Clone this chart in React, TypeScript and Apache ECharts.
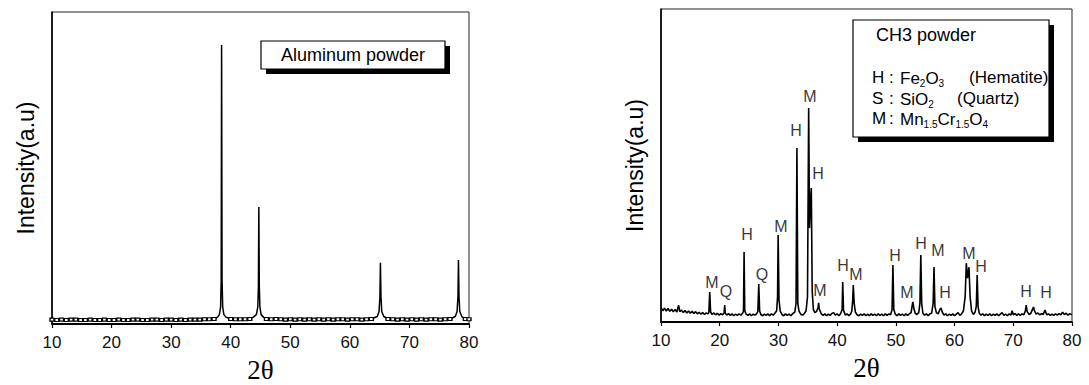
import React, { useEffect, useRef } from "react";
import * as echarts from "echarts";

const xTickValues = [10, 20, 30, 40, 50, 60, 70, 80];

// Aluminum powder pattern: [2θ, intensity]
const aluminumData: [number, number][] = [
  [10, 1.4], [10.8, 1.3], [11.6, 1.4], [12.4, 1.3], [13.2, 1.4], [14, 1.4], [14.8, 1.3], [15.6, 1.3],
  [16.4, 1.4], [17.2, 1.3], [18, 1.3], [18.8, 1.4], [19.6, 1.3], [20.4, 1.3], [21.2, 1.4], [22, 1.3],
  [22.8, 1.3], [23.6, 1.4], [24.4, 1.4], [25.2, 1.3], [26, 1.3], [26.8, 1.4], [27.6, 1.4], [28.4, 1.3],
  [29.2, 1.4], [30, 1.4], [30.8, 1.3], [31.6, 1.4], [32.4, 1.3], [33.2, 1.4], [34, 1.4], [34.8, 1.4],
  [35.6, 1.5], [36.4, 1.5], [37.2, 1.6],
  [37.8, 2.2], [38.1, 3.0], [38.3, 5.5], [38.4, 14], [38.47, 89.4], [38.55, 14], [38.65, 5.5], [38.85, 3.0], [39.2, 2.2],
  [40, 1.6], [40.8, 1.5], [41.6, 1.5], [42.4, 1.5], [43.2, 1.6],
  [43.8, 2.2], [44.3, 3.0], [44.55, 5.5], [44.65, 12], [44.72, 37.5], [44.8, 12], [44.9, 5.5], [45.1, 3.0], [45.5, 2.2],
  [46, 1.6], [46.8, 1.5], [47.6, 1.6], [48.4, 1.5], [49.2, 1.4], [50, 1.5], [50.8, 1.4], [51.6, 1.5],
  [52.4, 1.4], [53.2, 1.5], [54, 1.4], [54.8, 1.5], [55.6, 1.4], [56.4, 1.5], [57.2, 1.4], [58, 1.5],
  [58.8, 1.5], [59.6, 1.4], [60.4, 1.5], [61.2, 1.5], [62, 1.4], [62.8, 1.5], [63.6, 1.6],
  [64.6, 2.4], [64.9, 4.0], [65.05, 9], [65.13, 19.6], [65.22, 9], [65.35, 4.0], [65.7, 2.4],
  [66.4, 1.6], [67.2, 1.5], [68, 1.4], [68.8, 1.5], [69.6, 1.4], [70.4, 1.5], [71.2, 1.4], [72, 1.5],
  [72.8, 1.4], [73.6, 1.5], [74.4, 1.5], [75.2, 1.4], [76, 1.5], [76.8, 1.6],
  [77.7, 2.4], [78.0, 4.0], [78.15, 9], [78.23, 20.5], [78.32, 9], [78.45, 4.0], [78.8, 2.4],
  [79.4, 1.6], [80, 1.5],
];

// CH3 powder pattern: [2θ, intensity]
const ch3Data: [number, number][] = [
  [10.0, 4.6], [10.3, 3.6], [10.6, 4.4], [10.9, 3.5], [11.2, 4.3], [11.5, 3.4], [11.8, 4.1], [12.1, 3.3],
  [12.4, 4.0], [12.7, 3.2], [13.0, 5.4], [13.2, 3.3], [13.5, 3.8], [13.8, 3.0], [14.1, 3.7], [14.4, 2.9],
  [14.7, 3.5], [15.0, 2.8], [15.3, 3.4], [15.6, 2.7], [15.9, 3.3], [16.2, 2.6], [16.5, 3.1], [16.8, 2.5],
  [17.1, 3.0], [17.4, 2.4], [17.7, 2.9], [18.0, 2.6],
  [18.15, 3.0], [18.3, 9.6], [18.45, 3.2],
  [18.7, 2.4], [19.0, 2.9], [19.3, 2.3], [19.6, 2.8], [19.9, 2.2], [20.2, 2.7], [20.5, 2.3],
  [20.75, 2.9], [20.85, 5.4], [20.95, 2.8],
  [21.2, 2.2], [21.5, 2.7], [21.8, 2.1], [22.1, 2.6], [22.4, 2.0], [22.7, 2.5], [23.0, 2.1], [23.3, 2.6],
  [23.6, 2.2], [23.9, 2.8],
  [24.05, 3.5], [24.15, 22.4], [24.27, 3.6],
  [24.5, 2.5], [24.8, 2.1], [25.1, 2.6], [25.4, 2.0], [25.7, 2.5], [26.0, 2.2], [26.3, 2.7],
  [26.5, 3.4], [26.65, 12.1], [26.8, 3.5],
  [27.0, 2.4], [27.3, 2.0], [27.6, 2.5], [27.9, 2.1], [28.2, 2.6], [28.5, 2.0], [28.8, 2.6], [29.1, 2.2],
  [29.4, 2.8], [29.7, 3.6],
  [29.85, 8], [29.95, 27.8], [30.1, 7], [30.3, 3.5],
  [30.6, 2.4], [30.9, 2.0], [31.2, 2.6], [31.5, 2.1], [31.8, 2.5], [32.1, 2.0], [32.4, 2.6], [32.8, 3.2],
  [33.0, 6], [33.15, 55.6], [33.3, 6], [33.5, 3.5],
  [33.8, 2.5], [34.1, 2.2], [34.4, 2.7], [34.7, 3.5],
  [34.95, 8], [35.15, 68.4], [35.3, 30], [35.45, 38], [35.6, 42.8], [35.75, 10], [35.95, 4],
  [36.2, 3.0], [36.5, 3.4],
  [36.75, 4.5], [36.85, 6.1], [36.95, 4.2],
  [37.3, 2.6], [37.6, 2.1], [37.9, 2.6], [38.2, 2.0], [38.5, 2.5], [38.8, 2.1], [39.1, 2.7], [39.4, 3.0],
  [39.7, 2.2], [40.0, 2.6], [40.3, 2.0], [40.6, 2.7],
  [40.85, 4], [40.95, 12.8], [41.08, 3.8],
  [41.4, 2.2], [41.7, 2.6], [42.0, 2.0], [42.3, 2.6], [42.5, 3.5],
  [42.65, 7], [42.75, 11.8], [42.9, 6], [43.1, 3.2],
  [43.4, 2.3], [43.7, 2.0], [44.0, 2.5], [44.3, 2.1], [44.6, 2.6], [44.9, 2.0], [45.2, 2.5], [45.5, 2.0],
  [45.8, 2.6], [46.1, 2.1], [46.4, 2.5], [46.7, 2.0], [47.0, 2.6], [47.3, 2.1], [47.6, 2.5], [47.9, 2.0],
  [48.2, 2.6], [48.5, 2.1], [48.8, 2.6], [49.1, 2.3],
  [49.35, 4], [49.5, 18.2], [49.65, 4],
  [49.9, 2.5], [50.2, 2.0], [50.5, 2.6], [50.8, 2.1], [51.1, 2.5], [51.4, 2.0], [51.7, 2.6], [52.0, 2.1],
  [52.3, 2.6], [52.6, 3.0],
  [52.8, 5.5], [52.9, 6.4], [53.05, 4.5], [53.3, 2.8],
  [53.6, 2.4], [53.9, 3.0],
  [54.1, 6], [54.25, 21.4], [54.4, 6], [54.6, 2.8],
  [54.9, 2.2], [55.2, 2.6], [55.5, 2.0], [55.8, 2.6], [56.1, 2.8],
  [56.35, 6], [56.5, 17.6], [56.65, 5], [56.9, 3],
  [57.2, 2.6], [57.5, 4.0], [57.7, 4.5], [57.9, 3.2],
  [58.2, 2.2], [58.5, 2.6], [58.8, 2.0], [59.1, 2.5], [59.4, 2.1], [59.7, 2.6], [60.0, 2.0], [60.3, 2.5],
  [60.6, 3.0], [60.9, 2.1], [61.2, 2.6], [61.5, 3.5],
  [61.8, 8], [62.0, 18.8], [62.2, 14], [62.45, 17.5], [62.65, 8], [62.9, 3.5],
  [63.2, 2.4], [63.5, 3.2],
  [63.7, 5], [63.85, 15.0], [64.0, 5], [64.2, 2.8],
  [64.5, 2.2], [64.8, 2.6], [65.1, 2.0], [65.4, 2.5], [65.7, 2.1], [66.0, 2.6], [66.3, 2.0], [66.6, 2.5],
  [66.9, 2.1], [67.2, 2.6], [67.5, 2.0], [67.8, 2.5], [68.1, 3.0], [68.4, 2.1], [68.7, 2.5], [69.0, 2.0],
  [69.3, 2.6], [69.6, 2.2], [69.8, 3.6], [70.0, 2.3], [70.3, 2.7], [70.6, 2.1], [70.9, 2.6], [71.2, 2.1],
  [71.5, 2.6], [71.8, 2.3],
  [72.05, 3.5], [72.2, 5.4], [72.35, 3.4],
  [72.7, 2.4], [73.0, 2.8], [73.3, 4.2], [73.45, 4.8], [73.6, 3.6], [73.9, 2.5], [74.2, 2.9], [74.5, 2.3],
  [74.8, 2.7], [75.1, 2.4], [75.4, 3.8], [75.7, 2.3], [76.0, 2.6], [76.3, 2.1], [76.6, 2.5], [76.9, 2.1],
  [77.2, 2.6], [77.5, 2.2], [77.8, 2.7], [78.1, 2.3], [78.4, 3.1], [78.7, 2.4], [79.0, 2.8], [79.3, 2.2],
  [79.6, 2.6], [80.0, 2.3],
];

// Phase labels placed above the CH3 peaks: [letter, 2θ, intensity]
const peakLabels: [string, number, number][] = [
  ["M", 18.69, 12.5], ["Q", 21.07, 9.6], ["H", 24.65, 27.8], ["Q", 27.2, 15.3],
  ["M", 30.44, 30.4], ["H", 33.0, 61.3], ["M", 35.38, 71.9], ["H", 36.74, 47.3],
  ["M", 37.08, 10.2], ["H", 41.0, 18.2], ["M", 43.21, 15.3], ["H", 49.86, 21.4],
  ["M", 51.9, 9.3], ["H", 54.29, 25.2], ["M", 57.18, 22.7], ["H", 58.37, 9.3],
  ["M", 62.46, 22.0], ["H", 64.5, 17.6], ["H", 72.17, 9.6], ["H", 75.58, 9.3],
];

const SANS = '"Liberation Sans", Arial, sans-serif';
const SERIF = '"Liberation Serif", "DejaVu Serif", serif';

export default function App() {
  const ref = useRef<HTMLDivElement>(null);

  useEffect(() => {
    if (!ref.current) return;
    const chart = echarts.init(ref.current, undefined, { renderer: "svg" });

    const grids = [
      { left: 52, top: 12, width: 417, height: 312 },
      { left: 661, top: 9, width: 411, height: 313 },
    ];

    const xAxes = grids.map((_, i) => ({
      type: "value",
      gridIndex: i,
      min: xTickValues[0],
      max: xTickValues[xTickValues.length - 1],
      interval: xTickValues[1] - xTickValues[0],
      axisLine: { show: true, onZero: false, lineStyle: { color: "#000", width: 1.8 } },
      axisTick: { show: true, inside: false, length: 4, lineStyle: { color: "#000", width: 1.2 } },
      axisLabel: { color: "#111", fontSize: 17, fontFamily: SANS, margin: 10 },
      splitLine: { show: false },
      name: "2θ",
      nameLocation: "middle",
      nameGap: 33,
      nameTextStyle: { fontFamily: SERIF, fontSize: 27, lineHeight: 26, color: "#000" },
    }));

    const yAxes = grids.map((_, i) => ({
      type: "value",
      gridIndex: i,
      min: 0,
      max: 100,
      axisLine: { show: true, lineStyle: { color: "#000", width: 1.6 } },
      axisTick: { show: false },
      axisLabel: { show: false },
      splitLine: { show: false },
      name: "Intensity(a.u)",
      nameLocation: "middle",
      nameRotate: 90,
      nameGap: 15,
      nameTextStyle: { fontFamily: SANS, fontSize: 23, color: "#000" },
    }));

    const rowFont = { fontSize: 17, fontFamily: SANS, fill: "#000" };
    const rich = {
      n: { fontSize: 17, fontFamily: SANS, fill: "#000", lineHeight: 20 },
      s: { fontSize: 10, fontFamily: SANS, fill: "#000", lineHeight: 10, verticalAlign: "bottom" },
    };
    const rowText = (x: number, y: number, text: string, useRich = false) => ({
      type: "text",
      x,
      y,
      style: useRich
        ? { text, rich, align: "left", verticalAlign: "middle" }
        : { text, ...rowFont, align: "left", verticalAlign: "middle" },
      z: 20,
    });

    chart.setOption({
      animation: false,
      backgroundColor: "#fff",
      grid: grids.map((g) => ({
        ...g,
        show: true,
        borderColor: "#222",
        borderWidth: 1,
        backgroundColor: "transparent",
        containLabel: false,
        outerBoundsMode: "none",
      })),
      xAxis: xAxes,
      yAxis: yAxes,
      series: [
        {
          type: "line",
          xAxisIndex: 0,
          yAxisIndex: 0,
          data: aluminumData,
          showSymbol: true,
          showAllSymbol: true,
          symbol: "rect",
          symbolSize: (v: number[]) => (v[1] < 1.8 ? [4, 3] : 0),
          itemStyle: { color: "#fff", borderColor: "#000", borderWidth: 1.2 },
          lineStyle: { color: "#000", width: 1.5 },
          silent: true,
        },
        {
          type: "line",
          xAxisIndex: 1,
          yAxisIndex: 1,
          data: ch3Data,
          symbol: "none",
          lineStyle: { color: "#000", width: 1.6 },
          silent: true,
        },
        {
          type: "scatter",
          xAxisIndex: 1,
          yAxisIndex: 1,
          symbolSize: 1,
          itemStyle: { color: "rgba(0,0,0,0)" },
          data: peakLabels.map(([t, x, y]) => ({ name: t, value: [x, y] })),
          label: {
            show: true,
            position: "inside",
            formatter: "{b}",
            color: "#000",
            fontSize: 16,
            fontFamily: SANS,
          },
          silent: true,
          z: 10,
        },
      ],
      graphic: [
        // left legend box
        { type: "rect", shape: { x: 266, y: 46, width: 184, height: 28 }, style: { fill: "#000" }, z: 18 },
        { type: "rect", shape: { x: 261, y: 41, width: 184, height: 28 }, style: { fill: "#fff", stroke: "#000", lineWidth: 1.2 }, z: 19 },
        {
          type: "text",
          x: 353,
          y: 55,
          style: { text: "Aluminum powder", fontSize: 18, fontFamily: SANS, fill: "#000", align: "center", verticalAlign: "middle" },
          z: 20,
        },
        // right legend box
        { type: "rect", shape: { x: 858, y: 25, width: 196, height: 117 }, style: { fill: "#000" }, z: 18 },
        { type: "rect", shape: { x: 853, y: 20, width: 196, height: 117 }, style: { fill: "#fff", stroke: "#000", lineWidth: 1.2 }, z: 19 },
        {
          type: "text",
          x: 876,
          y: 35,
          style: { text: "CH3 powder", fontSize: 18, fontFamily: SANS, fill: "#000", align: "left", verticalAlign: "middle" },
          z: 20,
        },
        rowText(872, 77, "H"),
        rowText(889, 77, ":"),
        rowText(900, 78, "{n|Fe}{s|2}{n|O}{s|3}", true),
        rowText(969, 77, "(Hematite)"),
        rowText(872, 98, "S"),
        rowText(889, 98, ":"),
        rowText(900, 99, "{n|SiO}{s|2}", true),
        rowText(957, 98, "(Quartz)"),
        rowText(872, 118, "M"),
        rowText(889, 118, ":"),
        rowText(900, 119, "{n|Mn}{s|1.5}{n|Cr}{s|1.5}{n|O}{s|4}", true),
      ],
    });

    return () => chart.dispose();
  }, []);

  return (
    <div
      ref={ref}
      style={{ position: "fixed", left: 0, top: 0, width: 1089, height: 385, background: "#fff" }}
    />
  );
}
